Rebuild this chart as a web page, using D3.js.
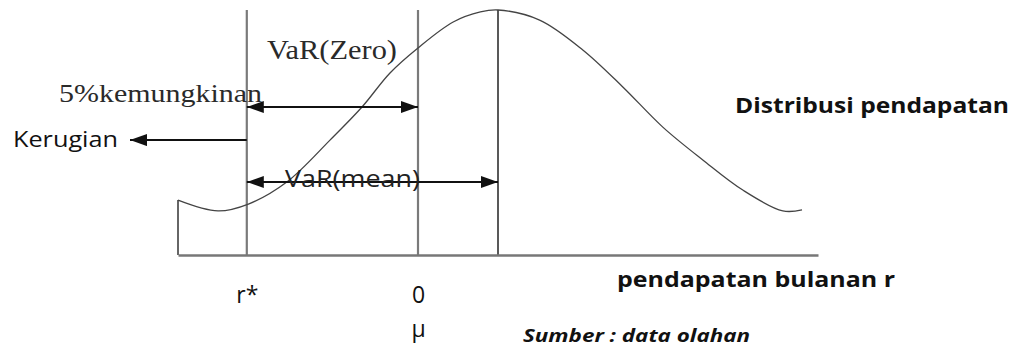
<!DOCTYPE html>
<html>
<head>
<meta charset="utf-8">
<script src="https://cdn.jsdelivr.net/npm/d3@7"></script>
<style>
  body { margin: 0; background: #fff; }
  svg { display: block; }
</style>
</head>
<body>
<script>
// income distribution curve (x = monthly income, y = relative density)
var curveX = [-3, -2.5, -2.12, -1.64, -1.1, -0.7, -0.35, 0, 0.44, 0.78, 1.0, 1.52, 2.06, 2.56, 3.06, 3.56, 4.06, 4.56, 4.8];
var curveY = [0.224, 0.18, 0.208, 0.298, 0.469, 0.604, 0.743, 0.845, 0.951, 0.992, 1.0, 0.959, 0.837, 0.686, 0.522, 0.388, 0.265, 0.18, 0.184];

// reference values on the income axis
var rStar = -2.14, zero = 0, mean = 1.0;
var guideTop = 1.0;

var tickValues = [rStar, zero];
var tickLabels = ['r*', '0'];
var muValues = [zero];
var muLabels = ['\u03bc'];

// arrow levels (density units)
var varZeroLevel = 0.604, varMeanLevel = 0.298, lossLevel = 0.469, lossEnd = -3.6;

var width = 1016, height = 347;

var svg = d3.select('body')
  .append('svg')
  .attr('width', width)
  .attr('height', height);

var x = d3.scaleLinear().domain([-3, 5]).range([178, 818]);
var y = d3.scaleLinear().domain([0, 1]).range([255, 10]);

var defs = svg.append('defs');
defs.append('marker')
  .attr('id', 'head')
  .attr('markerUnits', 'userSpaceOnUse')
  .attr('markerWidth', 17)
  .attr('markerHeight', 12)
  .attr('refX', 17)
  .attr('refY', 6)
  .attr('orient', 'auto-start-reverse')
  .append('path')
  .attr('d', 'M0,0L17,6L0,12Z')
  .attr('fill', '#111');

// guide lines
svg.append('line')
  .attr('x1', x(-3)).attr('x2', x(-3))
  .attr('y1', y(0)).attr('y2', y(curveY[0]))
  .attr('stroke', '#333').attr('stroke-width', 1.5);

[rStar, zero].forEach(function(v) {
  svg.append('line')
    .attr('x1', x(v)).attr('x2', x(v))
    .attr('y1', y(0)).attr('y2', y(guideTop))
    .attr('stroke', '#7a7a7a').attr('stroke-width', 2.2);
});
svg.append('line')
  .attr('x1', x(mean)).attr('x2', x(mean))
  .attr('y1', y(0)).attr('y2', y(guideTop))
  .attr('stroke', '#222').attr('stroke-width', 1.5);

// curve
var pts = curveX.map(function(d, i) { return [d, curveY[i]]; });
var line = d3.line()
  .x(function(d) { return x(d[0]); })
  .y(function(d) { return y(d[1]); })
  .curve(d3.curveCatmullRom.alpha(0.5));

svg.append('path')
  .attr('d', line(pts))
  .attr('fill', 'none')
  .attr('stroke', '#444')
  .attr('stroke-width', 1.3);

// axis
var axis = svg.append('g')
  .attr('transform', 'translate(0,' + y(0) + ')')
  .call(d3.axisBottom(x)
    .tickValues(tickValues)
    .tickSize(0)
    .tickSizeOuter(0)
    .tickPadding(32)
    .tickFormat(function(d, i) { return tickLabels[i]; }));
axis.select('.domain').attr('stroke', '#777').attr('stroke-width', 2.5);
axis.selectAll('text')
  .attr('font-family', 'Open Sans, sans-serif')
  .attr('font-size', 23)
  .attr('fill', '#111');

var axisMu = svg.append('g')
  .attr('transform', 'translate(0,' + y(0) + ')')
  .call(d3.axisBottom(x)
    .tickValues(muValues)
    .tickSize(0)
    .tickPadding(66)
    .tickFormat(function(d, i) { return muLabels[i]; }));
axisMu.select('.domain').remove();
axisMu.selectAll('text')
  .attr('font-family', 'Open Sans, sans-serif')
  .attr('font-size', 23)
  .attr('fill', '#111');

// arrows
function arrow(x1, x2, yv, both) {
  var l = svg.append('line')
    .attr('x1', x(x1)).attr('x2', x(x2))
    .attr('y1', y(yv)).attr('y2', y(yv))
    .attr('stroke', '#111').attr('stroke-width', 2)
    .attr('marker-end', 'url(#head)');
  if (both) l.attr('marker-start', 'url(#head)');
}
arrow(rStar, zero, varZeroLevel, true);
arrow(rStar, mean, varMeanLevel, true);
arrow(rStar, lossEnd, lossLevel, false);

// labels
function label(txt, px, py, size, len, family, weight, style, color) {
  svg.append('text')
    .attr('x', px).attr('y', py)
    .attr('font-family', family)
    .attr('font-size', size)
    .attr('font-weight', weight || 'normal')
    .attr('font-style', style || 'normal')
    .attr('fill', color || '#111')
    .attr('textLength', len)
    .attr('lengthAdjust', 'spacingAndGlyphs')
    .text(txt);
}
var serif = 'Liberation Serif, Times New Roman, serif';
var sans = 'Open Sans, sans-serif';
label('VaR(Zero)', 267, 59, 27, 130, serif, null, null, '#2a2a2a');
label('5%kemungkinan', 59, 102, 26, 203, serif, null, null, '#2a2a2a');
label('Kerugian', 13, 147, 22, 105, sans);
label('VaR(mean)', 285, 187, 23, 135, sans, null, null, '#222');
label('Distribusi pendapatan', 735, 113, 22, 274, sans, 'bold');
label('pendapatan bulanan r', 617, 287, 22, 278, sans, 'bold');
label('Sumber : data olahan', 523, 342, 18, 227, sans, 'bold', 'italic');
</script>
</body>
</html>
